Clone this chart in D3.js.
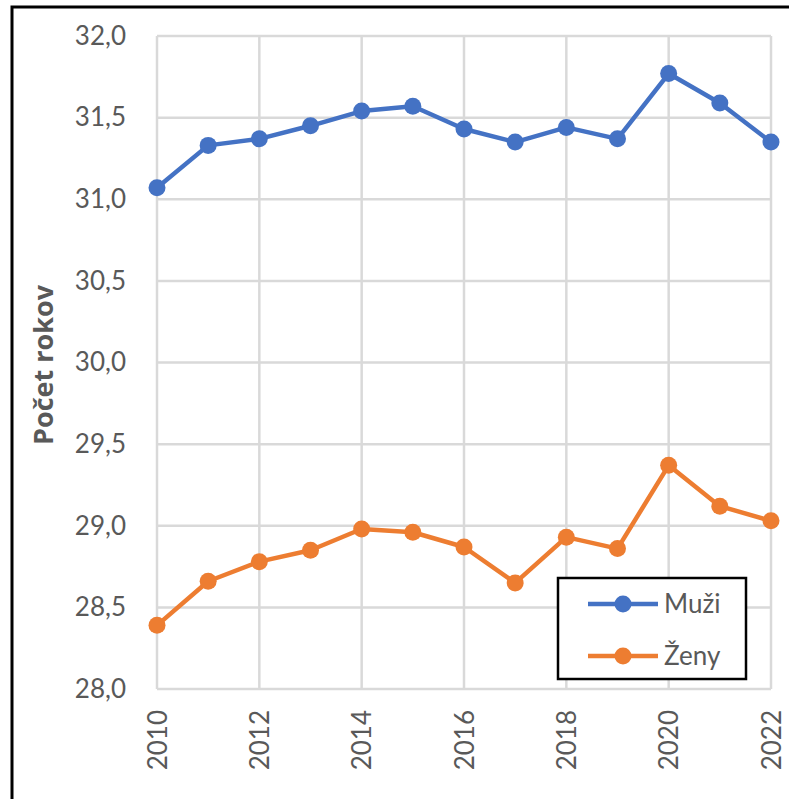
<!DOCTYPE html>
<html>
<head>
<meta charset="utf-8">
<script src="https://cdn.jsdelivr.net/npm/d3@7"></script>
<style>
  body { margin: 0; background: #fff; }
  svg { display: block; }
</style>
</head>
<body>
<div id="chart"></div>
<script>
// data
const years = [2010, 2011, 2012, 2013, 2014, 2015, 2016, 2017, 2018, 2019, 2020, 2021, 2022];
const muzi = [31.07, 31.33, 31.37, 31.45, 31.54, 31.57, 31.43, 31.35, 31.44, 31.37, 31.77, 31.59, 31.35];
const zeny = [28.39, 28.66, 28.78, 28.85, 28.98, 28.96, 28.87, 28.65, 28.93, 28.86, 29.37, 29.12, 29.03];
const y_ticks = [28.0, 28.5, 29.0, 29.5, 30.0, 30.5, 31.0, 31.5, 32.0];
const x_ticks = [2010, 2012, 2014, 2016, 2018, 2020, 2022];
const series_names = ["Muži", "Ženy"];
const series_colors = ["#4472C4", "#ED7D31"];

const width = 789, height = 799;
const margin = { left: 157, right: 18, top: 36, bottom: 110 };

let svg = d3.select("#chart").append("svg")
  .attr("width", width)
  .attr("height", height);

// outer frame
svg.append("rect")
  .attr("x", 12).attr("y", 7)
  .attr("width", width + 20).attr("height", height + 20)
  .attr("fill", "none")
  .attr("stroke", "#000")
  .attr("stroke-width", 3);

let x = d3.scaleLinear()
  .domain([2010, 2022])
  .range([margin.left, width - margin.right]);
let y = d3.scaleLinear()
  .domain([28, 32])
  .range([height - margin.bottom, margin.top]);

// grid
svg.append("g")
  .selectAll("line.h")
  .data(y_ticks)
  .enter().append("line")
  .attr("x1", x(2010)).attr("x2", x(2022))
  .attr("y1", (d) => y(d)).attr("y2", (d) => y(d))
  .attr("stroke", "#d9d9d9")
  .attr("stroke-width", 2.5);

svg.append("g")
  .selectAll("line.v")
  .data(x_ticks)
  .enter().append("line")
  .attr("x1", (d) => x(d)).attr("x2", (d) => x(d))
  .attr("y1", y(32)).attr("y2", y(28))
  .attr("stroke", "#d9d9d9")
  .attr("stroke-width", 2.5);

// y axis labels
let y_axis = svg.append("g")
  .attr("transform", "translate(" + (x(2010) - 28) + ",0)")
  .call(d3.axisLeft(y).tickValues(y_ticks).tickSize(0)
    .tickFormat((d) => d3.format(".1f")(d).replace(".", ",")));
y_axis.select(".domain").remove();
y_axis.selectAll("text")
  .attr("font-family", "Lato, 'Open Sans', sans-serif")
  .attr("font-size", 26)
  .attr("fill", "#595959")
  .attr("dx", 0);

// x axis labels
let x_axis = svg.append("g")
  .attr("transform", "translate(0," + (y(28) + 21) + ")")
  .call(d3.axisBottom(x).tickValues(x_ticks).tickSize(0).tickFormat(d3.format("d")));
x_axis.select(".domain").remove();
x_axis.selectAll("text")
  .attr("font-family", "Lato, 'Open Sans', sans-serif")
  .attr("font-size", 26)
  .attr("fill", "#595959")
  .attr("transform", "rotate(-90)")
  .attr("text-anchor", "end")
  .attr("x", 0)
  .attr("y", 0)
  .attr("dy", "0.35em");

// axis title
svg.append("text")
  .attr("transform", "translate(44,365) rotate(-90)")
  .attr("text-anchor", "middle")
  .attr("dy", "0.35em")
  .attr("font-family", "'Open Sans', Lato, sans-serif")
  .attr("font-weight", "bold")
  .attr("font-size", 27)
  .attr("fill", "#595959")
  .text("Počet rokov");

// lines
let line = d3.line()
  .x((d, i) => x(years[i]))
  .y((d) => y(d));

[muzi, zeny].forEach((values, k) => {
  svg.append("path")
    .datum(values)
    .attr("d", line)
    .attr("fill", "none")
    .attr("stroke", series_colors[k])
    .attr("stroke-width", 4.5)
    .attr("stroke-linejoin", "round");
  svg.append("g")
    .selectAll("circle")
    .data(values)
    .enter().append("circle")
    .attr("cx", (d, i) => x(years[i]))
    .attr("cy", (d) => y(d))
    .attr("r", 8.5)
    .attr("fill", series_colors[k]);
});

// legend
let legend = svg.append("g").attr("transform", "translate(558,578)");
legend.append("rect")
  .attr("width", 188).attr("height", 101)
  .attr("fill", "#fff")
  .attr("stroke", "#000")
  .attr("stroke-width", 2.5);
series_names.forEach((name, k) => {
  let ly = 26 + k * 52;
  legend.append("line")
    .attr("x1", 30).attr("x2", 100)
    .attr("y1", ly).attr("y2", ly)
    .attr("stroke", series_colors[k])
    .attr("stroke-width", 4.5);
  legend.append("circle")
    .attr("cx", 65).attr("cy", ly).attr("r", 8.5)
    .attr("fill", series_colors[k]);
  legend.append("text")
    .attr("x", 106).attr("y", ly)
    .attr("dy", "0.35em")
    .attr("font-family", "Lato, 'Open Sans', sans-serif")
    .attr("font-size", 26)
    .attr("fill", "#595959")
    .text(name);
});
</script>
</body>
</html>
